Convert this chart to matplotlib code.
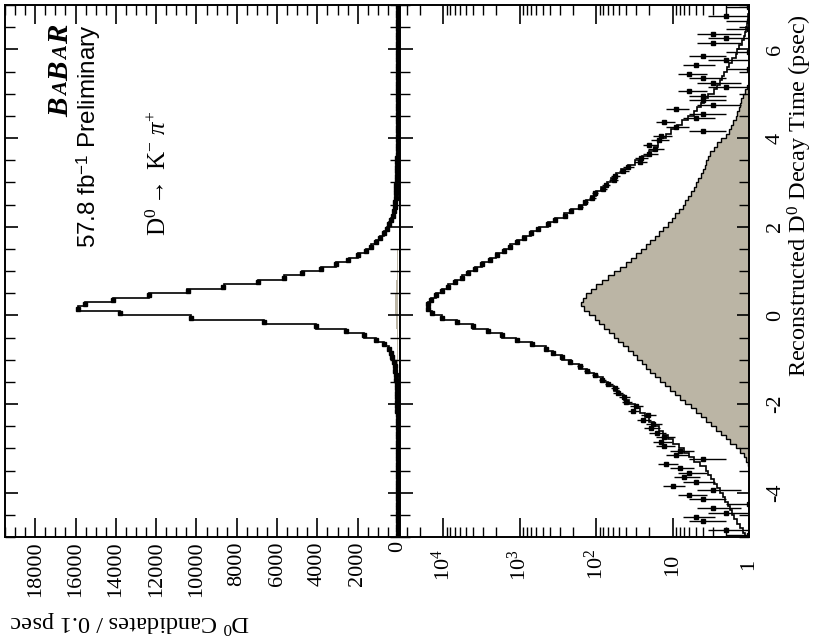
import numpy as np
import matplotlib.pyplot as plt
from matplotlib.ticker import MultipleLocator, LogLocator, NullFormatter

plt.rcParams['font.family'] = ['Liberation Serif', 'DejaVu Serif']
plt.rcParams['mathtext.fontset'] = 'custom'
plt.rcParams['mathtext.rm'] = 'Liberation Serif'
plt.rcParams['mathtext.it'] = 'Liberation Serif:italic'
plt.rcParams['mathtext.sf'] = 'Liberation Sans'
plt.rcParams['axes.unicode_minus'] = False

# 120 bins of 0.1 psec from -5 to 7 psec
edges = np.linspace(-5, 7, 121)
centers = 0.5 * (edges[:-1] + edges[1:])

# fit (total), one value per bin
fit_counts = [
    1.12, 1.2, 1.32, 1.45, 1.55, 1.65, 1.77, 1.9, 2.05, 2.2,
    2.4, 2.65, 2.9, 3.15, 3.4, 3.7, 4.4, 5.3, 6.1, 7.0,
    8.2, 9.8, 11.5, 13.2, 15.2, 17.5, 20, 23, 26.5, 31,
    37, 43, 50, 59, 70, 82, 105, 130, 165, 215,
    280, 360, 450, 690, 1100, 1680, 2590, 4070, 6630, 10260,
    13810, 15880, 15550, 14150, 12350, 10450, 8650, 6970, 5650, 4740,
    3830, 3080, 2450, 2000, 1600, 1330, 1080, 890, 700, 560,
    430, 340, 260, 210, 165, 135, 115, 100, 85, 72,
    63, 54, 47, 38, 31, 25, 20, 17.5, 15.5, 14,
    12.3, 10.5, 8.8, 7.5, 6.2, 5.3, 4.8, 4.3, 3.9, 3.4,
    2.9, 2.6, 2.4, 2.25, 2.1, 1.95, 1.8, 1.65, 1.5, 1.42,
    1.35, 1.25, 1.18, 1.12, 1.08, 1.05, 1.03, 1.02, 1.01, 1.0,
]

# data candidates per bin
data_counts = [
    1, 2, 0, 4, 5, 2, 3, 1, 4, 6,
    3, 10, 5, 7, 6, 8, 12, 4, 9, 8,
    13, 14, 13, 16, 19, 18, 24, 21, 33, 30,
    40, 43, 52, 57, 69, 83, 104, 133, 162, 218,
    276, 365, 447, 695, 1090, 1685, 2580, 4060, 6635, 10250,
    13810, 15890, 15540, 14160, 12360, 10430, 8660, 6960, 5650, 4740,
    3830, 3080, 2460, 1990, 1610, 1320, 1090, 880, 705, 565,
    425, 345, 255, 214, 160, 138, 112, 104, 81, 75,
    59, 56, 44, 38, 27, 26, 20, 17, 20, 15,
    14, 4, 9, 13, 5, 4, 9, 3, 4, 4,
    6, 2, 3, 4, 6, 1, 5, 2, 4, 1,
    0, 3, 2, 3, 1, 0, 1, 2, 0, 1,
]

# background component (shaded)
bkg_counts = [
    1.0, 1.0, 1.0, 1.0, 1.0, 1.0, 1.0, 1.0, 1.0, 1.0,
    1.0, 1.0, 1.0, 1.0, 1.0, 1.0, 1.02, 1.08, 1.18, 1.32,
    1.5, 1.75, 2.0, 2.35, 2.7, 3.1, 3.6, 4.2, 5.0, 5.8,
    6.8, 7.9, 9.2, 10.7, 12.5, 14.5, 17, 19.5, 22, 25,
    29, 33, 38, 44, 51, 59, 68, 79, 91, 104,
    125, 145, 155, 148, 135, 118, 100, 84, 70, 58,
    49, 41, 35, 30, 26, 22.5, 19.5, 17, 15, 13.2,
    11.6, 10.3, 9.2, 8.2, 7.4, 6.8, 6.2, 5.7, 5.3, 4.9,
    4.6, 4.3, 4.0, 3.8, 3.6, 3.4, 3.2, 2.9, 2.6, 2.3,
    2.0, 1.85, 1.72, 1.6, 1.5, 1.42, 1.36, 1.32, 1.28, 1.2,
    1.12, 1.05, 1.0, 1.0, 1.0, 1.0, 1.0, 1.0, 1.0, 1.0,
    1.0, 1.0, 1.0, 1.0, 1.0, 1.0, 1.0, 1.0, 1.0, 1.0,
]

fit = np.array(fit_counts, float)
data = np.array(data_counts, float)
bkg = np.array(bkg_counts, float)
shade = '#bbb5a5'

W, H = 815, 643
fig = plt.figure(figsize=(W / 100, H / 100), dpi=100)

def box(x0, x1, y0, y1):
    return [x0 / W, 1 - y1 / H, (x1 - x0) / W, (y1 - y0) / H]

# the whole plot is turned a quarter turn: decay time runs upwards, counts leftwards
ax1 = fig.add_axes(box(5, 400, 5, 537))
ax2 = fig.add_axes(box(400, 749, 5, 537))

# linear panel
ax1.stairs(bkg, edges, orientation='horizontal', fill=True, color=shade, baseline=0)
ax1.stairs(fit, edges, orientation='horizontal', color='k', lw=1.2)
ax1.plot(data, centers, 's', ms=3, color='k')
ax1.set_xlim(19500, -100)
ax1.set_ylim(-5, 7)
ax1.xaxis.set_major_locator(MultipleLocator(2000))
ax1.xaxis.set_minor_locator(MultipleLocator(500))
ax1.yaxis.set_major_locator(MultipleLocator(2))
ax1.yaxis.set_minor_locator(MultipleLocator(0.5))
ax1.tick_params(axis='x', which='both', direction='in', top=True, bottom=True,
                labelrotation=90, labelsize=16, pad=3)
ax1.tick_params(axis='x', which='major', length=14, width=1.2)
ax1.tick_params(axis='x', which='minor', length=7, width=1.0)
ax1.tick_params(axis='y', which='both', direction='in', left=True, right=True,
                labelleft=False)
ax1.tick_params(axis='y', which='major', length=9, width=1.2)
ax1.tick_params(axis='y', which='minor', length=7, width=1.0)

# log panel
ax2.set_xscale('log')
ax2.stairs(bkg, edges, orientation='horizontal', fill=True, color=shade, baseline=0.1)
ax2.stairs(bkg, edges, orientation='horizontal', color='k', lw=1.0, baseline=0.1)
ax2.stairs(fit, edges, orientation='horizontal', color='k', lw=1.2, baseline=0.1)
m = data > 0
err = np.sqrt(data)
lo = np.minimum(err, data - 1e-3)
ax2.errorbar(data[m], centers[m], xerr=[lo[m], err[m]], fmt='s', ms=3, color='k',
             elinewidth=1.0, capsize=0)
ax2.set_xlim(36500, 1)
ax2.set_ylim(-5, 7)
ax2.set_xticks([1, 10, 100, 1000, 10000],
               ['1', '10', r'$10^{2}$', r'$10^{3}$', r'$10^{4}$'],
               rotation=90, va='center')
ax2.xaxis.set_minor_locator(LogLocator(base=10, subs=np.arange(2, 10), numticks=20))
ax2.xaxis.set_minor_formatter(NullFormatter())
ax2.tick_params(axis='x', which='both', direction='in', top=True, bottom=True,
                labelsize=16, pad=20)
ax2.tick_params(axis='x', which='major', length=14, width=1.2)
ax2.tick_params(axis='x', which='minor', length=7, width=1.0)
ax2.yaxis.set_major_locator(MultipleLocator(2))
ax2.yaxis.set_minor_locator(MultipleLocator(0.5))
ax2.tick_params(axis='y', which='both', direction='in', left=True, right=True,
                labelleft=False, labelright=True, labelsize=16, pad=12)
ax2.tick_params(axis='y', which='major', length=9, width=1.2)
ax2.tick_params(axis='y', which='minor', length=7, width=1.0)
for lab in ax2.get_yticklabels():
    lab.set_rotation(90)
    lab.set_va('center')

for ax in (ax1, ax2):
    for sp in ax.spines.values():
        sp.set_linewidth(1.4)

# axis titles
fig.text(800 / W, 1 - 14 / H, r'Reconstructed D$^{0}$ Decay Time (psec)', rotation=90,
         ha='center', va='top', fontsize=17.5)
fig.text(10 / W, 1 - 621 / H, r'D$^{0}$ Candidates / 0.1 psec', rotation=180,
         ha='left', va='center', fontsize=17.5)

# labels inside the linear panel
for ch, y0, fs in [('B', 117, 21), ('A', 96, 15), ('B', 81, 21), ('A', 60, 15), ('R', 44, 21)]:
    fig.text(68 / W, 1 - y0 / H, ch, rotation=90, rotation_mode='anchor',
             ha='left', va='baseline', fontsize=fs, fontweight='bold', style='italic')
fig.text(96 / W, 1 - 248 / H, r'57.8 fb$^{\mathsf{-1}}$ Preliminary', rotation=90,
         rotation_mode='anchor', ha='left', va='baseline', fontsize=17.5,
         family='Liberation Sans')
fig.text(166 / W, 1 - 236 / H, r'D$^{0}$$\rightarrow$ K$^{-}$ $\pi^{+}$', rotation=90,
         rotation_mode='anchor', ha='left', va='baseline', fontsize=18)

fig.savefig('out.png', dpi=100)
